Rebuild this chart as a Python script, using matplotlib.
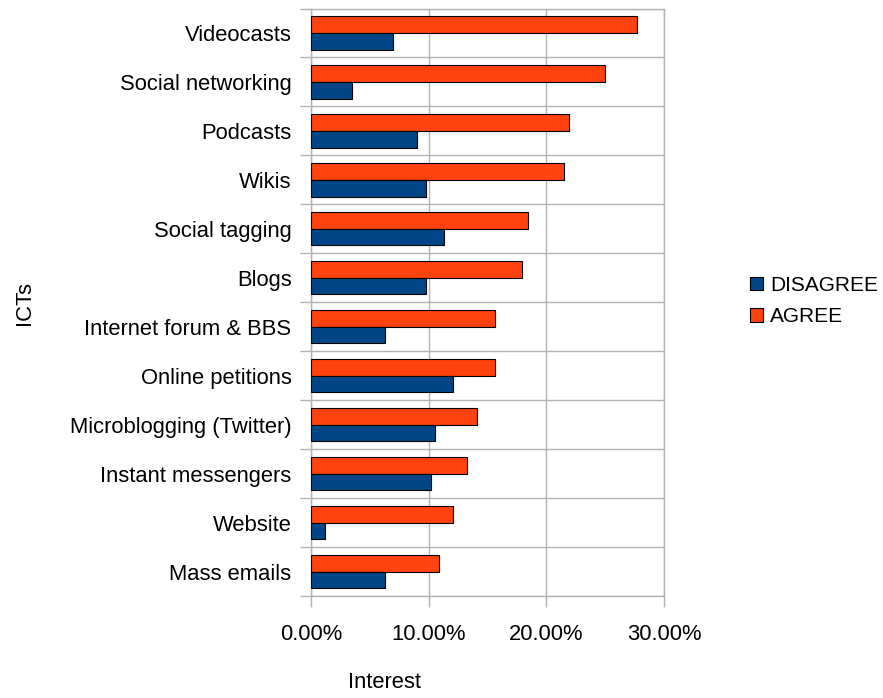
import matplotlib
matplotlib.use("Agg")
import matplotlib.pyplot as plt
import numpy as np
from matplotlib.ticker import FuncFormatter, FixedLocator

categories = ["Videocasts", "Social networking", "Podcasts", "Wikis",
              "Social tagging", "Blogs", "Internet forum & BBS",
              "Online petitions", "Microblogging (Twitter)",
              "Instant messengers", "Website", "Mass emails"]
disagree = [7.0, 3.5, 9.0, 9.8, 11.3, 9.8, 6.3, 12.1, 10.5, 10.2, 1.2, 6.3]
agree = [27.7, 25.0, 21.9, 21.5, 18.4, 17.9, 15.6, 15.6, 14.1, 13.3, 12.1, 10.9]
x_ticks = [0, 10, 20, 30]

plt.rcParams["font.family"] = ["Liberation Sans", "DejaVu Sans"]

fig = plt.figure(figsize=(8.83, 6.98), dpi=100)
ax = fig.add_axes([311 / 883, 1 - 596 / 698, 353 / 883, 587.5 / 698])

n = len(categories)
pos = np.arange(n)[::-1]  # first category at top
h = 0.34
grid_c = "#b3b3b3"

ax.barh(pos + h / 2, agree, height=h, color="#ff420e", edgecolor="#000000",
        linewidth=0.8, label="AGREE", zorder=3)
ax.barh(pos - h / 2, disagree, height=h, color="#004586", edgecolor="#000000",
        linewidth=0.8, label="DISAGREE", zorder=3)

ax.set_xlim(0, 30)
ax.set_ylim(-0.5, n - 0.5)
ax.xaxis.set_major_locator(FixedLocator(x_ticks))
ax.xaxis.set_major_formatter(FuncFormatter(lambda v, p: f"{v:.2f}%"))
ax.set_yticks(pos)
ax.set_yticklabels(categories)
ax.yaxis.set_minor_locator(FixedLocator(np.arange(-0.5, n, 1.0)))

ax.grid(axis="x", which="major", color=grid_c, linewidth=1, zorder=0)
ax.grid(axis="y", which="minor", color=grid_c, linewidth=1, zorder=0)
for s in ax.spines.values():
    s.set_color(grid_c)
    s.set_linewidth(1)

ax.tick_params(axis="y", which="major", length=0, labelsize=15.8, pad=14, colors="#000000")
ax.tick_params(axis="y", which="minor", length=8, color=grid_c, width=1)
ax.tick_params(axis="x", which="major", length=8, color=grid_c, width=1,
               labelsize=15.8, pad=12, labelcolor="#000000")

fig.text(25 / 883, 1 - 303 / 698, "ICTs", rotation=90, ha="center", va="center", fontsize=15.8)
fig.text(385 / 883, 1 - 683 / 698, "Interest", ha="center", va="center", fontsize=15.8)

handles, labels = ax.get_legend_handles_labels()
leg = fig.legend(handles[::-1], labels[::-1], loc="center left",
                 bbox_to_anchor=(750 / 883, 1 - 301 / 698), frameon=False,
                 fontsize=15, handlelength=0.6, handleheight=0.6,
                 handletextpad=0.35, labelspacing=0.6, borderpad=0,
                 borderaxespad=0)

fig.savefig("out.png", dpi=100)
